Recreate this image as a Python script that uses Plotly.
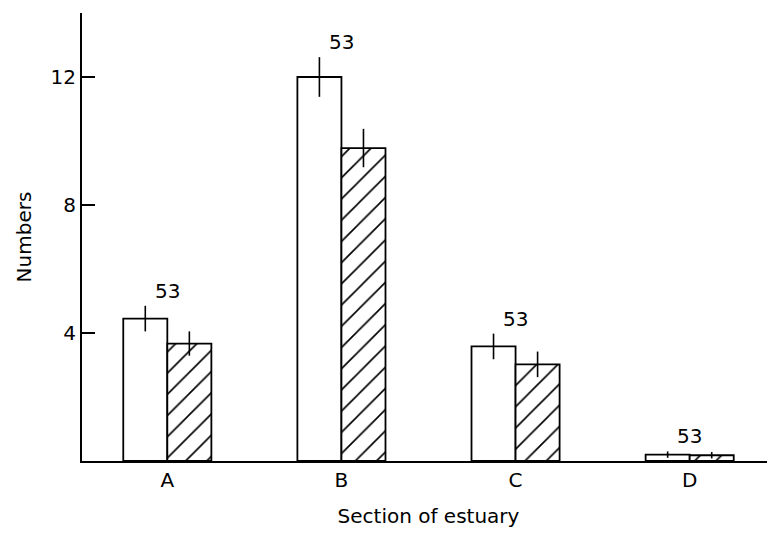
import plotly.graph_objects as go

sections = ["A", "B", "C", "D"]
open_vals = [4.45, 12.0, 3.58, 0.2]
open_err = [0.4, 0.62, 0.4, 0.1]
hatched_vals = [3.67, 9.78, 3.02, 0.18]
hatched_err = [0.38, 0.6, 0.4, 0.1]
sample_n = ["53", "53", "53", "53"]

FONT = "DejaVu Sans"
FS = 20

fig = go.Figure()
fig.add_trace(go.Bar(
    x=sections, y=open_vals,
    marker=dict(color="white", line=dict(color="black", width=1.8)),
    error_y=dict(type="data", array=open_err, color="black", thickness=1.6, width=0),
    showlegend=False,
))
fig.add_trace(go.Bar(
    x=sections, y=hatched_vals,
    marker=dict(color="white", line=dict(color="black", width=1.8),
                pattern=dict(shape="/", size=15, solidity=0.11, fgcolor="black",
                             bgcolor="white", fgopacity=1)),
    error_y=dict(type="data", array=hatched_err, color="black", thickness=1.6, width=0),
    showlegend=False,
))

for s, v, e, n in zip(sections, open_vals, open_err, sample_n):
    fig.add_annotation(x=s, y=v + e, text=n, showarrow=False, yanchor="bottom",
                       yshift=1, font=dict(family=FONT, size=FS, color="black"))

fig.update_layout(
    width=767, height=525,
    margin=dict(l=74, r=0, t=5, b=72),
    paper_bgcolor="white", plot_bgcolor="white",
    barmode="group", bargap=0.494, bargroupgap=0,
    font=dict(family=FONT, size=FS, color="black"),
)
fig.update_xaxes(
    range=[-0.49, 3.49], showline=True, linecolor="black", linewidth=2,
    ticks="", showgrid=False, zeroline=False,
    title=dict(text="Section of estuary", font=dict(family=FONT, size=FS), standoff=18),
    tickfont=dict(family=FONT, size=FS),
)
fig.update_yaxes(
    range=[0, 14], showline=True, linecolor="black", linewidth=2,
    ticks="inside", ticklen=13, tickwidth=1.6, tickcolor="black",
    tickvals=[4, 8, 12], ticktext=["4", "8", "12"],
    showgrid=False, zeroline=False,
    title=dict(text="Numbers", font=dict(family=FONT, size=FS), standoff=14),
    tickfont=dict(family=FONT, size=FS),
)

fig.write_html("out.html")
